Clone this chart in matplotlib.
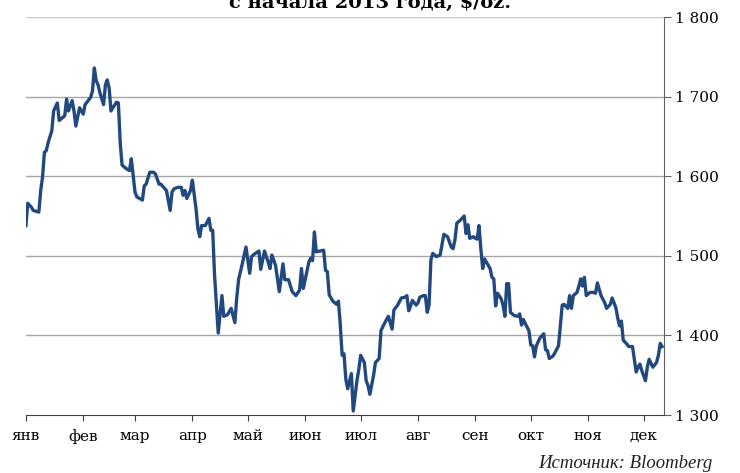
import numpy as np
import pandas as pd
import matplotlib
matplotlib.use("Agg")
import matplotlib.pyplot as plt
from matplotlib.ticker import FuncFormatter

# day of year 2013 and price, $/oz
day = [1, 2, 4, 5, 8, 9, 10, 11, 12, 13, 15, 16, 18, 19, 20, 22, 23, 24, 26, 27,
       28, 30, 32, 33, 36, 37, 38, 39, 40, 41, 43, 44, 45, 46, 47, 48, 50, 51, 52, 53,
       55, 57, 58, 59, 60, 61, 64, 65, 66, 68, 70, 71, 73, 74, 77, 79, 80, 81, 83, 85,
       86, 87, 88, 90, 91, 93, 94, 95, 96, 98, 100, 101, 102, 103, 105, 107, 108, 110, 112, 114,
       115, 116, 118, 120, 122, 123, 125, 127, 128, 130, 132, 133, 134, 136, 138, 140, 141, 143, 145, 147,
       149, 150, 151, 154, 155, 156, 157, 158, 162, 163, 164, 165, 167, 169, 170, 171, 172, 173, 174, 175,
       177, 178, 180, 181, 182, 184, 185, 186, 187, 189, 190, 192, 193, 194, 196, 197, 199, 200, 202, 204,
       206, 207, 208, 209, 210, 212, 213, 214, 216, 217, 218, 219, 220, 221, 223, 225, 227, 229, 231, 232,
       233, 234, 236, 238, 239, 240, 241, 243, 244, 245, 246, 247, 248, 249, 250, 252, 253, 254, 255, 256,
       258, 259, 260, 261, 262, 263, 265, 267, 268, 269, 270, 271, 273, 274, 275, 276, 277, 279, 281, 282,
       283, 284, 286, 287, 289, 290, 291, 292, 294, 295, 296, 297, 299, 300, 301, 302, 303, 304, 306, 308,
       309, 310, 312, 314, 315, 317, 318, 320, 321, 322, 323, 324, 326, 327, 329, 331, 332, 333, 334, 336,
       337, 338, 340, 342, 343, 344, 345]
price = [1538, 1566, 1561, 1557, 1555, 1582, 1599, 1630, 1632, 1642, 1657, 1682, 1692, 1670, 1672, 1676, 1697, 1682, 1695, 1682,
         1663, 1686, 1678, 1690, 1699, 1707, 1736, 1720, 1715, 1705, 1690, 1715, 1721, 1711, 1682, 1686, 1693, 1692, 1642, 1614,
         1610, 1607, 1622, 1601, 1580, 1574, 1570, 1588, 1590, 1605, 1605, 1603, 1590, 1590, 1582, 1557, 1580, 1584, 1586, 1586,
         1576, 1582, 1572, 1582, 1595, 1559, 1534, 1524, 1538, 1538, 1547, 1532, 1532, 1476, 1403, 1450, 1424, 1426, 1434, 1416,
         1447, 1470, 1490, 1511, 1478, 1499, 1503, 1506, 1483, 1506, 1492, 1484, 1501, 1488, 1455, 1490, 1470, 1470, 1455, 1450,
         1457, 1484, 1459, 1492, 1497, 1494, 1530, 1505, 1507, 1482, 1480, 1451, 1443, 1439, 1443, 1413, 1375, 1377, 1345, 1333,
         1352, 1305, 1343, 1357, 1375, 1366, 1343, 1337, 1326, 1350, 1366, 1371, 1406, 1411, 1420, 1424, 1408, 1432, 1438, 1447,
         1448, 1450, 1431, 1437, 1444, 1438, 1441, 1448, 1450, 1450, 1429, 1438, 1495, 1503, 1499, 1501, 1527, 1524, 1511, 1509,
         1520, 1541, 1545, 1550, 1528, 1539, 1522, 1524, 1522, 1521, 1538, 1509, 1484, 1496, 1492, 1484, 1473, 1471, 1437, 1453,
         1446, 1438, 1424, 1465, 1465, 1429, 1425, 1424, 1427, 1413, 1420, 1415, 1406, 1388, 1387, 1373, 1387, 1397, 1402, 1382,
         1381, 1371, 1374, 1378, 1387, 1413, 1438, 1439, 1434, 1450, 1434, 1450, 1454, 1462, 1471, 1462, 1473, 1450, 1454, 1454,
         1453, 1466, 1450, 1441, 1434, 1439, 1447, 1435, 1422, 1412, 1418, 1394, 1389, 1386, 1386, 1354, 1360, 1364, 1356, 1343,
         1360, 1370, 1360, 1366, 1375, 1390, 1386]

months = ["янв", "фев", "мар", "апр", "май", "июн", "июл", "авг", "сен", "окт", "ноя", "дек"]
y_ticks = [1300, 1400, 1500, 1600, 1700, 1800]

dates = pd.Timestamp("2013-01-01") + pd.to_timedelta(np.array(day) - 1, unit="D")
month_starts = pd.date_range("2013-01-01", periods=12, freq="MS")

fig = plt.figure(figsize=(7.4, 4.73), dpi=100)
ax = fig.add_axes([0.035, 0.1226, 0.862, 0.8414])

for v in y_ticks[1:]:
    ax.axhline(v, color="#a6a6a6" if v < 1800 else "#c8c8c8", lw=1.0, zorder=1)

ax.plot(dates, price, color="#22497f", lw=2.4, solid_joinstyle="round", zorder=3)

ax.set_xlim(pd.Timestamp("2013-01-01"), pd.Timestamp("2013-12-11 22:00"))
ax.set_ylim(1300, 1800)

ax.set_xticks(month_starts)
ax.set_xticklabels(months)
ax.yaxis.tick_right()
ax.set_yticks(y_ticks)
ax.yaxis.set_major_formatter(FuncFormatter(lambda v, p: f"{int(v):,}".replace(",", " ")))

for s in ["top", "left"]:
    ax.spines[s].set_visible(False)
ax.spines["right"].set_color("#606060")
ax.spines["bottom"].set_color("#404040")
ax.tick_params(axis="x", direction="out", length=4, color="#404040", pad=6,
               labelsize=11, labelfontfamily="DejaVu Serif")
ax.tick_params(axis="y", direction="out", length=5, color="#606060", pad=3,
               labelsize=11, labelfontfamily="DejaVu Serif")

# title is cropped at the top edge in the reference image
fig.text(0.5, 1 - 3 / 473, "с начала 2013 года, $/oz.", ha="center", va="center",
         fontsize=14, fontweight="bold", family="DejaVu Serif")
fig.text(712 / 740, 1 - 463 / 473, "Источник: Bloomberg", ha="right", va="center",
         fontsize=13.5, style="italic", family="Liberation Serif", color="#222222")

fig.savefig("out.png", dpi=100)
